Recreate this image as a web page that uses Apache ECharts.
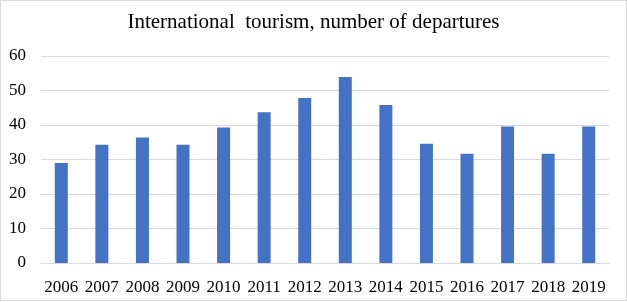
<!DOCTYPE html>
<html>
<head>
<meta charset="utf-8">
<script src="https://cdn.jsdelivr.net/npm/echarts@6/dist/echarts.min.js"></script>
<style>
  html, body { margin: 0; padding: 0; background: #fff; }
  #chart { width: 625px; height: 299px; border: 1px solid #d9d9d9; }
</style>
</head>
<body>
<div id="chart"></div>
<script>
// data
var years = ['2006', '2007', '2008', '2009', '2010', '2011', '2012', '2013', '2014', '2015', '2016', '2017', '2018', '2019']
var departures = [29.0, 34.3, 36.4, 34.3, 39.3, 43.7, 47.8, 53.9, 45.8, 34.6, 31.7, 39.6, 31.7, 39.6]
var titleText = 'International  tourism, number of departures'

var font = '"Liberation Serif", "Times New Roman", serif'
var chart = echarts.init(document.getElementById('chart'))
chart.setOption({
  animation: false,
  title: {
    text: titleText,
    left: 'center',
    top: 6,
    textStyle: { fontFamily: font, fontSize: 21, fontWeight: 'normal', color: '#000' }
  },
  grid: { left: 40, right: 17, top: 55, bottom: 37 },
  xAxis: {
    type: 'category',
    data: years,
    axisTick: { show: false },
    axisLine: { lineStyle: { color: '#d9d9d9' } },
    axisLabel: { fontFamily: font, fontSize: 17, color: '#000', margin: 16, interval: 0 }
  },
  yAxis: {
    type: 'value',
    min: 0,
    max: 60,
    interval: 10,
    axisLabel: { fontFamily: font, fontSize: 17, color: '#000', margin: 15 },
    splitLine: { lineStyle: { color: '#d9d9d9' } }
  },
  series: [{
    type: 'bar',
    data: departures,
    barWidth: 13,
    itemStyle: { color: '#4472c4' }
  }]
})
</script>
</body>
</html>
